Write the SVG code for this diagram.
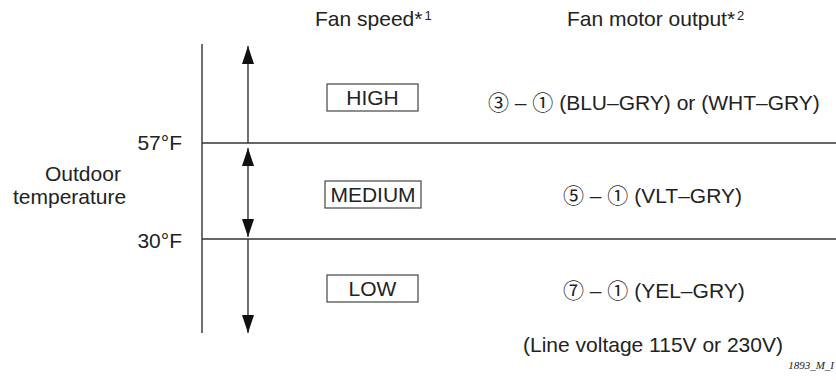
<svg xmlns="http://www.w3.org/2000/svg" width="836" height="380" viewBox="0 0 836 380">
<style>
text{font-family:"Liberation Sans",Arial,"Noto Sans CJK JP",sans-serif;font-size:21px;fill:#222}
.ln{stroke:#333;stroke-width:1.4;fill:none}
.box{stroke:#444;stroke-width:1.2;fill:#fff}
.mid{text-anchor:middle}
.end{text-anchor:end}
.sup{font-size:13px}
.ref{font-family:"Liberation Serif",serif;font-style:italic;font-size:11px}
</style>
<defs>
<marker id="ah" viewBox="0 0 18 12" refX="18" refY="6" markerWidth="18" markerHeight="12" markerUnits="userSpaceOnUse" orient="auto">
<path d="M0,0 L18,6 L0,12 Z" fill="#111"/>
</marker>
</defs>
<rect width="836" height="380" fill="#fff"/>
<g id="headers">
<text x="315" y="26">Fan speed*<tspan class="sup" dy="-6" dx="2">1</tspan></text>
<text x="567" y="26">Fan motor output*<tspan class="sup" dy="-6" dx="2">2</tspan></text>
</g>
<g id="axis-labels">
<text x="45" y="181">Outdoor</text>
<text x="13" y="204">temperature</text>
<text x="182" y="150" class="end">57°F</text>
<text x="182" y="248" class="end">30°F</text>
</g>
<g id="connectors">
<line class="ln" x1="202" y1="44" x2="202" y2="333"/>
<line class="ln" x1="202" y1="143" x2="836" y2="143"/>
<line class="ln" x1="202" y1="239" x2="836" y2="239"/>
<line class="ln" x1="248" y1="143" x2="248" y2="46" marker-end="url(#ah)"/>
<line class="ln" x1="248" y1="192" x2="248" y2="148" marker-end="url(#ah)"/>
<line class="ln" x1="248" y1="192" x2="248" y2="237" marker-end="url(#ah)"/>
<line class="ln" x1="248" y1="239" x2="248" y2="333" marker-end="url(#ah)"/>
</g>
<g id="high">
<rect class="box" x="327" y="84" width="91" height="27"/>
<text x="372.5" y="105" class="mid">HIGH</text>
<text x="488" y="110">③ – ① (BLU–GRY) or (WHT–GRY)</text>
</g>
<g id="medium">
<rect class="box" x="325" y="181" width="96" height="27"/>
<text x="373" y="202" class="mid">MEDIUM</text>
<text x="563" y="203">⑤ – ① (VLT–GRY)</text>
</g>
<g id="low">
<rect class="box" x="327" y="275" width="91" height="27"/>
<text x="372.5" y="296" class="mid">LOW</text>
<text x="563" y="298">⑦ – ① (YEL–GRY)</text>
</g>
<g id="notes">
<text x="523" y="352">(Line voltage 115V or 230V)</text>
<text x="834" y="369" class="ref end">1893_M_I</text>
</g>
</svg>
